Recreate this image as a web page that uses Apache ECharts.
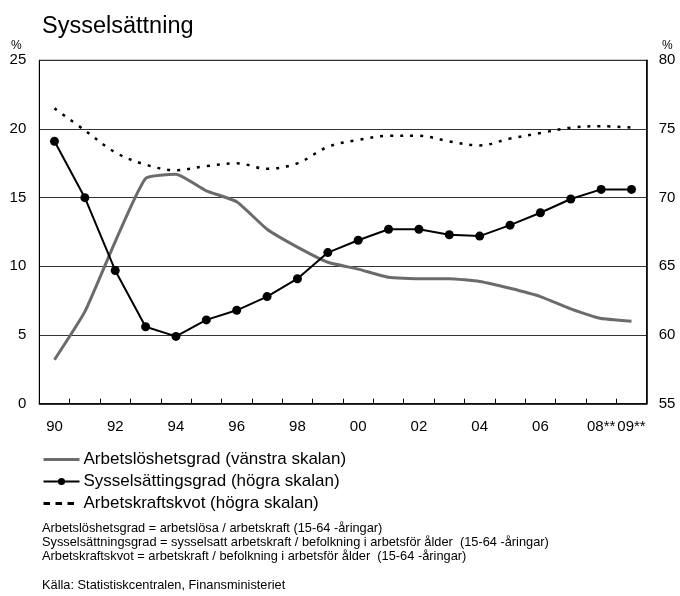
<!DOCTYPE html>
<html><head><meta charset="utf-8">
<script src="https://cdn.jsdelivr.net/npm/echarts@6/dist/echarts.min.js"></script>
<style>html,body{margin:0;padding:0;background:#fff}#c{width:680px;height:596px}</style>
</head><body><div id="c"></div>
<script>
const years = ['90','91','92','93','94','95','96','97','98','99','00','01','02','03','04','05','06','07','08**','09**'];
const arbetsloshetsgrad = [3.2,6.7,11.8,16.4,16.7,15.5,14.7,12.7,11.4,10.3,9.8,9.2,9.1,9.1,8.9,8.4,7.8,6.9,6.2,6.0];
const sysselsattningsgrad = [74.1,70.0,64.7,60.6,59.9,61.1,61.8,62.8,64.1,66.0,66.9,67.7,67.7,67.3,67.2,68.0,68.9,69.9,70.6,70.6];
const arbetskraftskvot = [76.5,74.9,73.3,72.4,72.0,72.3,72.5,72.1,72.5,73.7,74.2,74.5,74.5,74.1,73.8,74.3,74.7,75.1,75.2,75.1];
const leftTicks = {min:0, max:25, interval:5};
const rightTicks = {min:55, max:80, interval:5};
const seriesNames = ['Arbetslöshetsgrad (vänstra skalan)','Sysselsättingsgrad (högra skalan)','Arbetskraftskvot (högra skalan)'];
const notes = [
 'Arbetslöshetsgrad = arbetslösa / arbetskraft (15-64 -åringar)',
 'Sysselsättningsgrad = sysselsatt arbetskraft / befolkning i arbetsför ålder  (15-64 -åringar)',
 'Arbetskraftskvot = arbetskraft / befolkning i arbetsför ålder  (15-64 -åringar)'
];
const source = 'Källa: Statistiskcentralen, Finansministeriet';

const FONT = '"Liberation Sans", Arial, sans-serif';
const chart = echarts.init(document.getElementById('c'), null, {renderer:'canvas'});
chart.setOption({
  animation:false,
  backgroundColor:'#fff',
  textStyle:{fontFamily:FONT},
  title:{text:'Sysselsättning', left:37, top:10, textStyle:{fontFamily:FONT, fontSize:23.5, fontWeight:'normal', color:'#000'}},
  grid:{left:39.3, right:33.3, top:60.3, bottom:192.3, show:true, borderColor:'#000', borderWidth:1},
  legend:{
    orient:'vertical', left:42, top:451, padding:0, itemWidth:36, itemHeight:9, itemGap:5,
    textStyle:{fontFamily:FONT, fontSize:17, color:'#000', padding:[0,0,0,-1]},
    data:[
      {name:seriesNames[0], itemStyle:{opacity:0}, lineStyle:{width:3, color:'#6b6b6b'}},
      {name:seriesNames[1], lineStyle:{width:2, color:'#000'}},
      {name:seriesNames[2], itemStyle:{opacity:0}, lineStyle:{type:[6.5,5.5], width:3, color:'#000'}}
    ]
  },
  graphic:[
    {type:'text', left:11, top:40, style:{text:'%', font:'12px '+FONT, fill:'#000'}},
    {type:'text', left:662, top:40, style:{text:'%', font:'12px '+FONT, fill:'#000'}},
    {type:'text', left:42, top:521, style:{text:notes.join('\n'), font:'12.8px '+FONT, fill:'#000', lineHeight:14}},
    {type:'text', left:42, top:579, style:{text:source, font:'12.8px '+FONT, fill:'#000'}}
  ],
  xAxis:{
    type:'category', data:years, boundaryGap:true,
    axisLine:{lineStyle:{color:'#000', width:1.5}},
    axisTick:{show:true, inside:true, length:5, interval:0, lineStyle:{color:'#000'}},
    axisLabel:{color:'#000', fontSize:15, fontFamily:FONT, margin:16,
      interval:function(i){return i%2===0 || i===19;}}
  },
  yAxis:[
    {type:'value', min:leftTicks.min, max:leftTicks.max, interval:leftTicks.interval, position:'left',
     axisLine:{show:true, lineStyle:{color:'#000'}}, axisTick:{show:false},
     axisLabel:{color:'#000', fontSize:15, fontFamily:FONT, margin:13},
     splitLine:{show:true, lineStyle:{color:'#333', width:1}}},
    {type:'value', min:rightTicks.min, max:rightTicks.max, interval:rightTicks.interval, position:'right',
     axisLine:{show:true, lineStyle:{color:'#000', width:1.5}}, axisTick:{show:false},
     axisLabel:{color:'#000', fontSize:15, fontFamily:FONT, margin:12},
     splitLine:{show:false}}
  ],
  series:[
    {name:seriesNames[0], type:'line', yAxisIndex:0, data:arbetsloshetsgrad, showSymbol:false, symbol:'none',
     smooth:0.15, lineStyle:{color:'#6b6b6b', width:3}, itemStyle:{color:'#6b6b6b'}, z:2},
    {name:seriesNames[1], type:'line', yAxisIndex:1, data:sysselsattningsgrad, symbol:'circle', symbolSize:9,
     lineStyle:{color:'#000', width:2}, itemStyle:{color:'#000'}, z:3},
    {name:seriesNames[2], type:'line', yAxisIndex:1, data:arbetskraftskvot, symbol:'none', smooth:0.35,
     lineStyle:{color:'#000', width:2.5, type:[3,7]}, itemStyle:{color:'#000'}, z:2}
  ]
});
</script></body></html>
